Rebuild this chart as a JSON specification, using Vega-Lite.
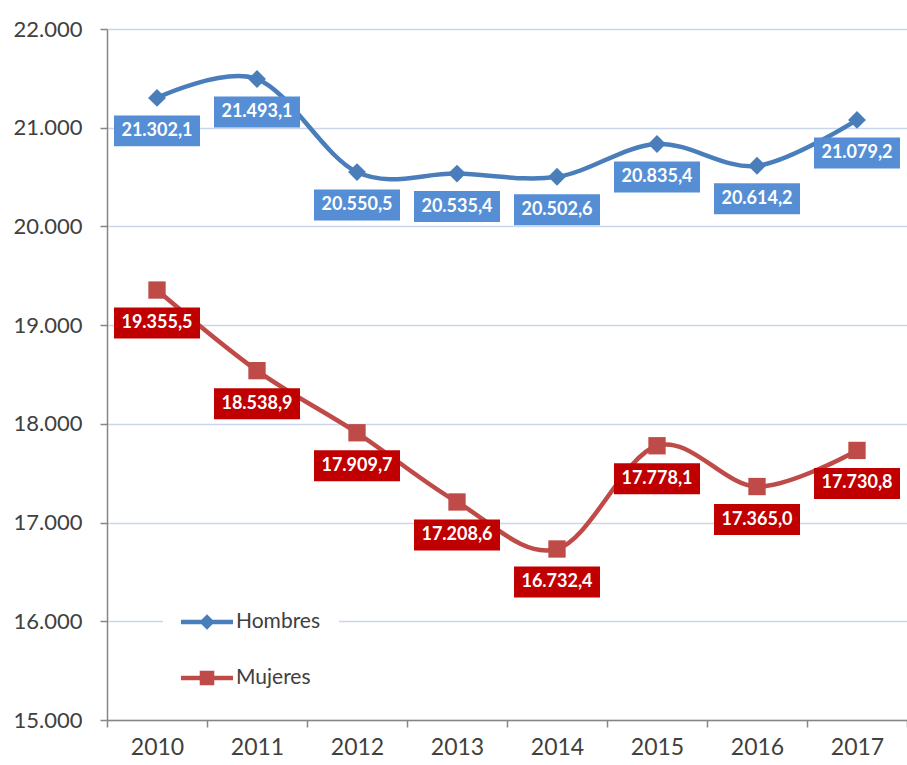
{
  "$schema": "https://vega.github.io/schema/vega-lite/v6.json",
  "autosize": {"type": "none"},
  "padding": {"left": 107, "top": 29, "right": 0, "bottom": 45},
  "width": 800,
  "height": 691,
  "background": "white",
  "config": {
    "locale": {"number": {"decimal": ",", "thousands": ".", "grouping": [3], "currency": ["", " €"]}},
    "view": {"stroke": null},
    "font": "Lato"
  },
  "data": {"values": [
    {"year": "2010", "serie": "Hombres", "value": 21302.1},
    {"year": "2011", "serie": "Hombres", "value": 21493.1},
    {"year": "2012", "serie": "Hombres", "value": 20550.5},
    {"year": "2013", "serie": "Hombres", "value": 20535.4},
    {"year": "2014", "serie": "Hombres", "value": 20502.6},
    {"year": "2015", "serie": "Hombres", "value": 20835.4},
    {"year": "2016", "serie": "Hombres", "value": 20614.2},
    {"year": "2017", "serie": "Hombres", "value": 21079.2},
    {"year": "2010", "serie": "Mujeres", "value": 19355.5},
    {"year": "2011", "serie": "Mujeres", "value": 18538.9},
    {"year": "2012", "serie": "Mujeres", "value": 17909.7},
    {"year": "2013", "serie": "Mujeres", "value": 17208.6},
    {"year": "2014", "serie": "Mujeres", "value": 16732.4},
    {"year": "2015", "serie": "Mujeres", "value": 17778.1},
    {"year": "2016", "serie": "Mujeres", "value": 17365.0},
    {"year": "2017", "serie": "Mujeres", "value": 17730.8}
  ]},
  "encoding": {
    "x": {
      "field": "year", "type": "ordinal",
      "scale": {"type": "band", "paddingInner": 0, "paddingOuter": 0},
      "axis": {
        "title": null, "labelAngle": 0, "tickBand": "extent",
        "domainColor": "#868686", "domainWidth": 1.5,
        "tickColor": "#868686", "tickWidth": 1.5, "tickSize": 7,
        "labelFontSize": 23, "labelColor": "#404040", "labelPadding": 9,
        "labelFont": "Lato", "grid": false
      }
    },
    "y": {
      "field": "value", "type": "quantitative",
      "scale": {"domain": [15000, 22000], "nice": false, "zero": false},
      "axis": {
        "title": null, "values": [15000, 16000, 17000, 18000, 19000, 20000, 21000, 22000],
        "format": ",.0f",
        "domainColor": "#868686", "domainWidth": 1.5,
        "tickColor": "#868686", "tickWidth": 1.5, "tickSize": 7,
        "labelFontSize": 22, "labelColor": "#404040", "labelPadding": 18,
        "labelFont": "Lato",
        "gridColor": "#C9D7EC", "gridWidth": 1.5
      }
    },
    "color": {
      "field": "serie", "type": "nominal",
      "scale": {"domain": ["Hombres", "Mujeres"], "range": ["#4A7EBB", "#BE4B48"]},
      "legend": {
        "title": null, "orient": "none", "legendX": 56, "legendY": 549,
        "padding": 18, "fillColor": "white", "rowPadding": 20,
        "labelFontSize": 21, "labelColor": "#404040", "labelFont": "Lato",
        "labelOffset": 3, "symbolSize": 2704, "symbolStrokeWidth": 0, "symbolOpacity": 1
      }
    }
  },
  "layer": [
    {
      "mark": {"type": "line", "interpolate": "cardinal", "strokeWidth": 4.5}
    },
    {
      "transform": [{"filter": "datum.serie === 'Hombres'"}],
      "mark": {"type": "point", "filled": true, "opacity": 1, "shape": "diamond", "size": 320}
    },
    {
      "transform": [{"filter": "datum.serie === 'Mujeres'"}],
      "mark": {"type": "point", "filled": true, "opacity": 1, "shape": "square", "size": 300}
    },
    {
      "transform": [{"filter": "datum.value < 0"}],
      "mark": {"type": "point", "filled": true, "opacity": 1},
      "encoding": {
        "shape": {
          "field": "serie", "type": "nominal",
          "scale": {"domain": ["Hombres", "Mujeres"], "range": ["M-1,-0.09H1V0.09H-1ZM0,-0.3L0.3,0L0,0.3L-0.3,0Z", "M-1,-0.09H1V0.09H-1ZM-0.28,-0.28H0.28V0.28H-0.28Z"]},
          "legend": null
        }
      }
    },
    {
      "mark": {"type": "point", "filled": true, "opacity": 1, "shape": "M-1,-0.36H1V0.36H-1Z", "size": 7396, "yOffset": 33},
      "encoding": {
        "color": {"value": null},
        "fill": {
          "field": "serie", "type": "nominal",
          "scale": {"domain": ["Hombres", "Mujeres"], "range": ["#558ED5", "#C00000"]},
          "legend": null
        }
      }
    },
    {
      "mark": {"type": "text", "fontWeight": "bold", "fontSize": 18, "font": "Lato", "yOffset": 33, "baseline": "middle", "align": "center"},
      "encoding": {
        "color": {"value": "white"},
        "text": {"field": "value", "type": "quantitative", "format": ",.1f"}
      }
    }
  ]
}
